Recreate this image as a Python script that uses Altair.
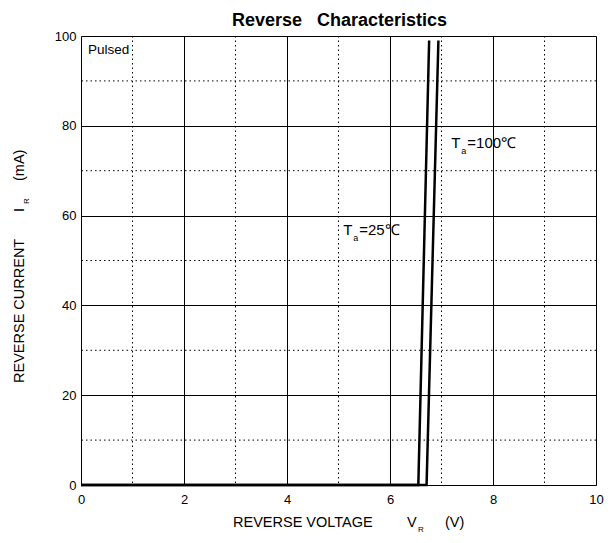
import altair as alt
import pandas as pd

# ---- data ----
v_25 = [0.0, 6.55, 6.76]
i_25 = [0.0, 0.0, 99.0]
v_100 = [0.0, 6.71, 6.94]
i_100 = [0.0, 0.0, 99.0]

x_major = [0, 2, 4, 6, 8, 10]
x_minor = [1, 3, 5, 7, 9]
y_major = [0, 20, 40, 60, 80, 100]
y_minor = [10, 30, 50, 70, 90]

ann_v = [5.09, 7.19]
ann_i = [55.7, 75.0]
ann_tail = ["=25℃", "=100℃"]

FONT = "Liberation Sans"
W, H = 515, 449
NB = "\u00a0"

lines = pd.concat([
    pd.DataFrame({"v": v_25, "i": i_25, "s": "25", "o": range(len(v_25))}),
    pd.DataFrame({"v": v_100, "i": i_100, "s": "100", "o": range(len(v_100))}),
])

xs = alt.Scale(domain=[0, 10], nice=False, zero=False)
ys = alt.Scale(domain=[0, 100], nice=False, zero=False)

xaxis = alt.Axis(values=x_major, grid=True, gridColor="black", gridWidth=1, gridOpacity=1,
                 ticks=False, domain=False, labelFont=FONT, labelFontSize=13, labelColor="black",
                 labelPadding=8, title=None, format="d", labelFlush=False)
yaxis = alt.Axis(values=y_major, grid=True, gridColor="black", gridWidth=1, gridOpacity=1,
                 ticks=False, domain=False, labelFont=FONT, labelFontSize=13, labelColor="black",
                 labelPadding=5, title=None, format="d", labelFlush=False)

def X(f="v"):
    return alt.X(f"{f}:Q", scale=xs, axis=xaxis)

def Y(f="i"):
    return alt.Y(f"{f}:Q", scale=ys, axis=yaxis)

minor_x = alt.Chart(pd.DataFrame({"v": x_minor})).mark_rule(
    color="black", strokeWidth=1, strokeDash=[1.5, 3]).encode(x=X())
minor_y = alt.Chart(pd.DataFrame({"i": y_minor})).mark_rule(
    color="black", strokeWidth=1, strokeDash=[1.5, 3]).encode(y=Y())

curves = alt.Chart(lines).mark_line(color="black", strokeWidth=2.5).encode(
    x=X(), y=Y(), detail="s:N", order="o:Q")

ann = pd.DataFrame({"v": ann_v, "i": ann_i, "tail": ann_tail, "T": "T", "a": "a"})
t_T = alt.Chart(ann).mark_text(font=FONT, fontSize=15, align="left", baseline="alphabetic",
                               color="black").encode(x=X(), y=Y(), text="T:N")
t_a = alt.Chart(ann).mark_text(font=FONT, fontSize=9, align="left", baseline="alphabetic",
                               color="black", dx=10, dy=6).encode(x=X(), y=Y(), text="a:N")
t_tail = alt.Chart(ann).mark_text(font=FONT, fontSize=15, align="left", baseline="alphabetic",
                                  color="black", dx=16).encode(x=X(), y=Y(), text="tail:N")

def label(txt, x, y, size=14.5, angle=0, align="left", weight="normal"):
    kw = dict(font=FONT, fontSize=size, align=align, baseline="alphabetic",
              color="black", fontWeight=weight)
    if angle:
        kw["angle"] = angle
    return alt.Chart(pd.DataFrame({"t": [txt]})).mark_text(**kw).encode(
        text="t:N", x=alt.value(x), y=alt.value(y))

pulsed = label("Pulsed", 7, 18, size=13.5)
title = label("Reverse" + NB * 3 + "Characteristics", W / 2 + 1, -10, size=18,
              align="center", weight="bold")

xt1 = label("REVERSE VOLTAGE", 152, 491)
xt2 = label("V", 326, 491)
xt3 = label("R", 337, 496, size=8)
xt4 = label("(V)", 364, 491)

yt1 = label("REVERSE CURRENT", -57, 347, angle=270)
yt2 = label("I", -57, 176, angle=270)
yt3 = label("R", -52, 168, size=8, angle=270)
yt4 = label("(mA)", -57, 145, angle=270)

chart = alt.layer(
    minor_x, minor_y, curves, t_T, t_a, t_tail, pulsed, title,
    xt1, xt2, xt3, xt4, yt1, yt2, yt3, yt4
).properties(
    width=W, height=H,
    autosize=alt.AutoSizeParams(type="none"),
    padding={"left": 73, "top": 28, "right": 9, "bottom": 50},
).configure_view(stroke="black", strokeWidth=1.5).configure(background="white")

chart.save("out.html", embed_options={"renderer": "svg", "actions": False})
